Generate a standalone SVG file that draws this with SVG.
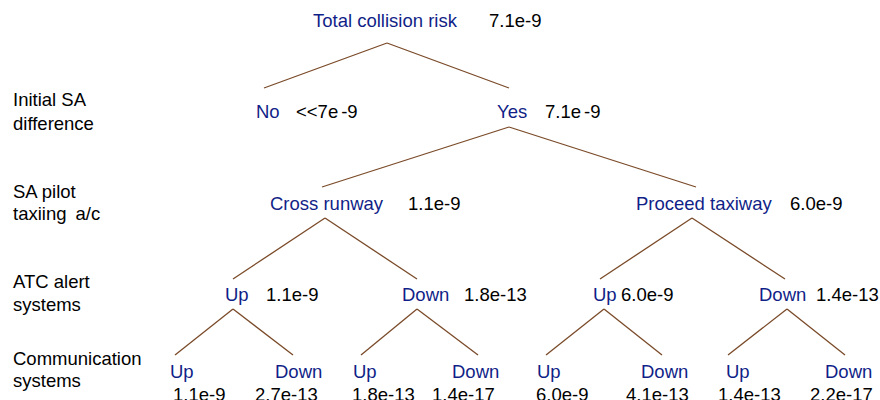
<svg xmlns="http://www.w3.org/2000/svg" width="880" height="400" viewBox="0 0 880 400">
<style>
text{font-family:"Liberation Sans",Arial,sans-serif;font-size:18.5px}
.n{fill:#111f88}
.v{fill:#000}
.l{fill:#000}
#connectors line{stroke:#7a4a28;stroke-width:1.3}
</style>
<rect width="880" height="400" fill="#fff"/>
<g id="levels">
<text class="l" x="13" y="106">Initial SA</text>
<text class="l" x="13" y="130">difference</text>
<text class="l" x="13" y="198">SA pilot</text>
<text class="l" x="13" y="220">taxiing<tspan dx="9">a/c</tspan></text>
<text class="l" x="13" y="288">ATC alert</text>
<text class="l" x="13" y="311">systems</text>
<text class="l" x="13" y="365">Communication</text>
<text class="l" x="13" y="387">systems</text>
</g>
<g id="connectors">
<line x1="387" y1="43" x2="264" y2="88"/>
<line x1="387" y1="43" x2="509" y2="88"/>
<line x1="509" y1="127" x2="322" y2="187"/>
<line x1="509" y1="127" x2="696" y2="187"/>
<line x1="325" y1="218" x2="233" y2="279"/>
<line x1="325" y1="218" x2="417" y2="279"/>
<line x1="692" y1="218" x2="600" y2="279"/>
<line x1="692" y1="218" x2="785" y2="279"/>
<line x1="233" y1="309" x2="175" y2="355"/>
<line x1="233" y1="309" x2="293" y2="355"/>
<line x1="417" y1="309" x2="361" y2="355"/>
<line x1="417" y1="309" x2="478" y2="355"/>
<line x1="604" y1="309" x2="546" y2="355"/>
<line x1="604" y1="309" x2="662" y2="355"/>
<line x1="787" y1="309" x2="728" y2="355"/>
<line x1="787" y1="309" x2="845" y2="355"/>
</g>
<g id="root"><text class="n" x="313" y="27">Total collision risk</text><text class="v" x="489" y="27">7.1e-9</text></g>
<g id="no"><text class="n" x="256" y="118">No</text><text class="v" x="296" y="118">&lt;&lt;7e<tspan dx="3">-9</tspan></text></g>
<g id="yes"><text class="n" x="497" y="118">Yes</text><text class="v" x="545" y="118">7.1e<tspan dx="3">-9</tspan></text></g>
<g id="cross"><text class="n" x="270" y="210">Cross runway</text><text class="v" x="408" y="210">1.1e-9</text></g>
<g id="proceed"><text class="n" x="636" y="210">Proceed taxiway</text><text class="v" x="790" y="210">6.0e-9</text></g>
<g id="cross-up"><text class="n" x="225" y="301">Up</text><text class="v" x="266" y="301">1.1e-9</text></g>
<g id="cross-down"><text class="n" x="402" y="301">Down</text><text class="v" x="464" y="301">1.8e-13</text></g>
<g id="proceed-up"><text class="n" x="593" y="301">Up</text><text class="v" x="621" y="301">6.0e-9</text></g>
<g id="proceed-down"><text class="n" x="759" y="301">Down</text><text class="v" x="816" y="301">1.4e-13</text></g>
<g id="leaf1"><text class="n" x="170" y="378">Up</text><text class="v" x="173" y="401">1.1e-9</text></g>
<g id="leaf2"><text class="n" x="275" y="378">Down</text><text class="v" x="255" y="401">2.7e-13</text></g>
<g id="leaf3"><text class="n" x="353" y="378">Up</text><text class="v" x="352" y="401">1.8e-13</text></g>
<g id="leaf4"><text class="n" x="452" y="378">Down</text><text class="v" x="432" y="401">1.4e-17</text></g>
<g id="leaf5"><text class="n" x="537" y="378">Up</text><text class="v" x="536" y="401">6.0e-9</text></g>
<g id="leaf6"><text class="n" x="641" y="378">Down</text><text class="v" x="626" y="401">4.1e-13</text></g>
<g id="leaf7"><text class="n" x="726" y="378">Up</text><text class="v" x="718" y="401">1.4e-13</text></g>
<g id="leaf8"><text class="n" x="825" y="378">Down</text><text class="v" x="810" y="401">2.2e-17</text></g>
</svg>
